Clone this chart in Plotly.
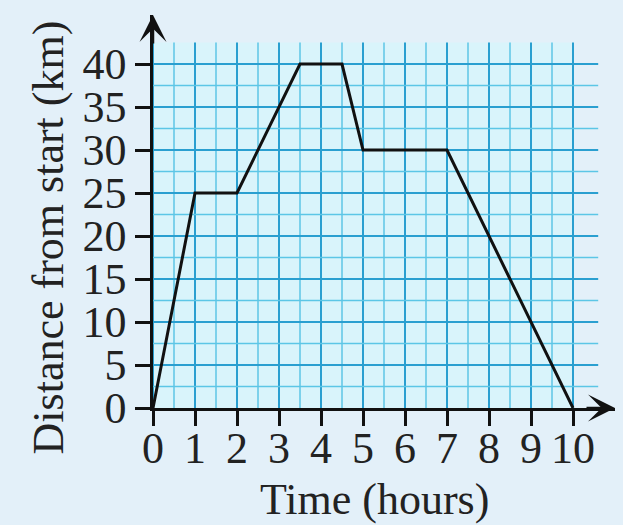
import numpy as np
import plotly.graph_objects as go

# journey: time (hours) vs distance from start (km)
time_h = [0, 1, 2, 3.5, 4.5, 5, 7, 10]
dist_km = [0, 25, 25, 40, 40, 30, 30, 0]

x_ticks = list(range(0, 11))
y_ticks = list(range(0, 45, 5))

BG = "#e3f0f9"
FONT = "Liberation Serif"

fig = go.Figure()

# graph paper grid
shapes = [dict(type="rect", x0=0, x1=10, y0=0, y1=42.5, xref="x", yref="y",
               fillcolor="#d9f4fb", line_width=0, layer="below")]
for gx in np.arange(0, 10.01, 0.5):
    major = abs(gx - round(gx)) < 1e-9
    shapes.append(dict(type="line", x0=gx, x1=gx, y0=0, y1=42.5, xref="x", yref="y",
                       line=dict(color="#2a9fd0" if major else "#5cc6e6", width=2 if major else 1.5),
                       layer="below"))
for gy in np.arange(2.5, 40.01, 2.5):
    major = abs(gy % 5) < 1e-9
    shapes.append(dict(type="line", x0=0, x1=10.6, y0=gy, y1=gy, xref="x", yref="y",
                       line=dict(color="#2a9fd0" if major else "#5cc6e6", width=2 if major else 1.5),
                       layer="below"))

fig.add_trace(go.Scatter(x=time_h, y=dist_km, mode="lines",
                         line=dict(color="#111111", width=3), showlegend=False,
                         hoverinfo="skip"))

axis_common = dict(showgrid=False, zeroline=False, showline=True, linecolor="#111111",
                   linewidth=2.5, ticks="outside", ticklen=15, tickwidth=2.5,
                   tickcolor="#111111", automargin=False,
                   tickfont=dict(family=FONT, size=44, color="#222222"))

fig.update_xaxes(range=[0, 11], tickvals=x_ticks, ticklabelstandoff=-16, **axis_common)
fig.update_yaxes(range=[0, 45.7], tickvals=y_ticks, **axis_common)

annotations = [
    # axis arrowheads
    dict(x=1, y=0, xref="paper", yref="paper", ax=-30, ay=0, showarrow=True,
         arrowhead=3, arrowsize=1.8, arrowwidth=2.5, arrowcolor="#111111", text=""),
    dict(x=0, y=1, xref="paper", yref="paper", ax=0, ay=30, showarrow=True,
         arrowhead=3, arrowsize=1.8, arrowwidth=2.5, arrowcolor="#111111", text=""),
    # axis titles
    dict(x=0.48, y=-0.234, xref="paper", yref="paper", showarrow=False,
         text="Time (hours)", font=dict(family=FONT, size=44, color="#222222"),
         xanchor="center", yanchor="middle"),
    dict(x=-0.226, y=0.433, xref="paper", yref="paper", showarrow=False,
         text="Distance from start (km)", textangle=-90,
         font=dict(family=FONT, size=44, color="#222222"),
         xanchor="center", yanchor="middle"),
]

fig.update_layout(width=623, height=525, margin=dict(l=153, r=8, t=15, b=117, autoexpand=False),
                  paper_bgcolor=BG, plot_bgcolor=BG, shapes=shapes,
                  annotations=annotations)

# drop the page's default body margin so the figure fills the window
fig.write_html("out.html", config={"displayModeBar": False},
               post_script="document.body.style.margin='0';document.body.style.background='%s';" % BG)
